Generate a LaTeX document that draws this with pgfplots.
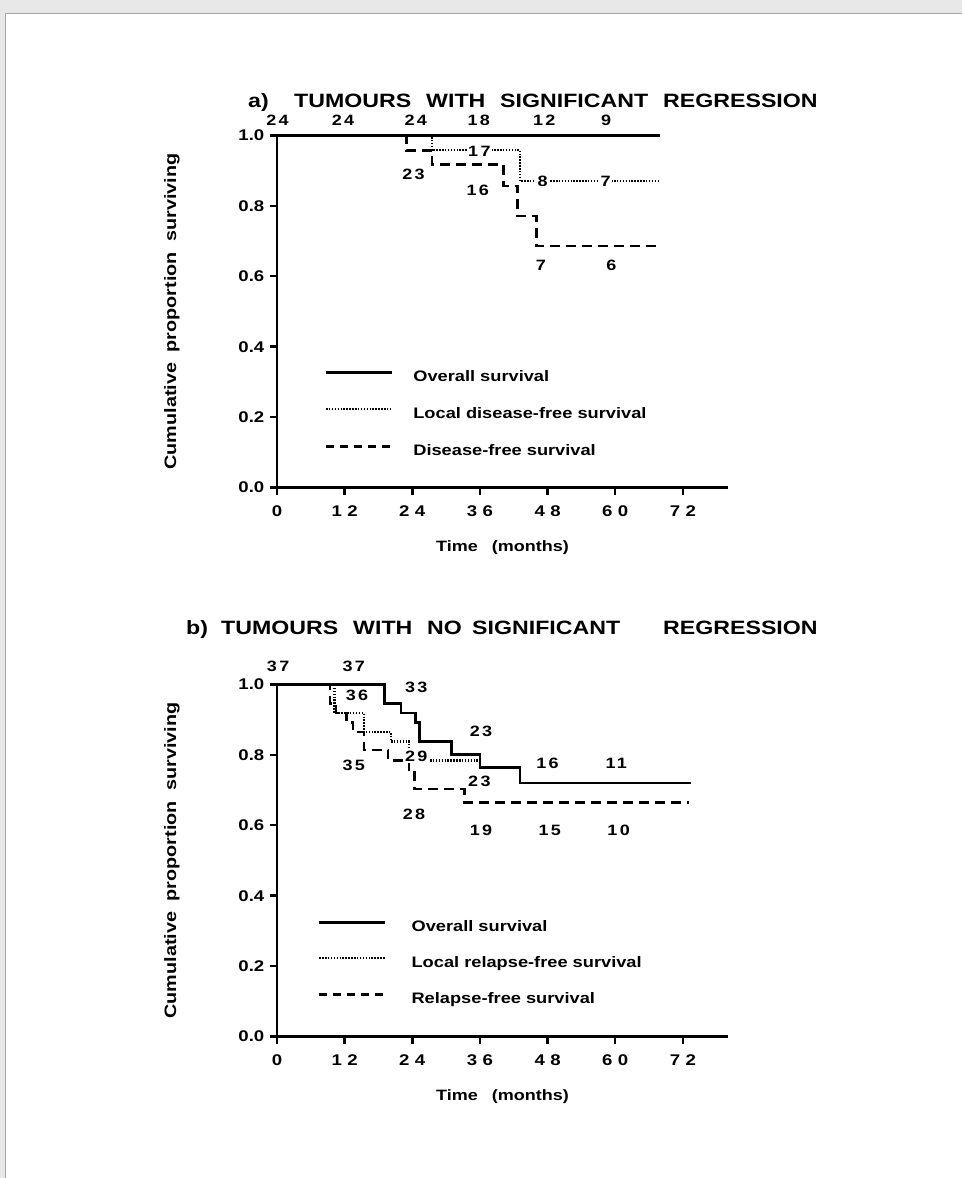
\documentclass[border=0pt]{standalone}
\usepackage{fontspec}
\setmainfont{Liberation Sans}[FakeStretch=1.2]
\newfontfamily\numfont{Liberation Sans}[FakeStretch=1.2, LetterSpace=15]
\newfontfamily\tickfont{Liberation Sans}[FakeStretch=1.2, LetterSpace=35]
\usepackage{pgfplots}
\pgfplotsset{compat=1.18}

\newcommand\fsz[1]{\fontsize{#1}{#1}\selectfont\bfseries}

\tikzset{
  overall/.style={black, line width=2.6pt},
  localfree/.style={black, line width=2.2pt, dash pattern=on 1.5pt off 1.4pt},
  relfree/.style={black, line width=2.5pt, dash pattern=on 10pt off 6pt},
  atrisk/.style={font=\numfont\fsz{15}, inner sep=1.5pt},
  onLine/.style={atrisk, fill=white},
  ttl/.style={anchor=base west, inner sep=0pt, font=\fsz{19.3}},
}

\pgfplotsset{
  kmframe/.style={
    scale only axis, width=451pt, height=352pt,
    xmin=0, xmax=80, ymin=0, ymax=1,
    axis x line*=bottom, axis y line*=left,
    axis line style={line width=2.4pt, -},
    xtick={0,12,24,36,48,60,72},
    xticklabels={0,12,24,36,48,60,72},
    ytick={0,0.2,0.4,0.6,0.8,1},
    yticklabels={0.0,0.2,0.4,0.6,0.8,1.0},
    tick align=outside, major tick length=7.5pt,
    major tick style={line width=2.4pt, black},
    xticklabel style={font=\tickfont\fsz{15.5}, inner sep=0pt, yshift=-10pt},
    yticklabel style={font=\fsz{15.5}, inner sep=0pt, xshift=-5pt},
    xlabel={Time\hspace{9pt} (months)},
    xlabel style={font=\fsz{15}, at={(axis description cs:0.5,-0.1705)}, anchor=center},
    ylabel={Cumulative\hspace{5pt} proportion\hspace{5pt} surviving},
    ylabel style={font=\fsz{16.5}, at={(axis description cs:-0.233,0.5)}, anchor=center},
    clip=false,
    legend cell align=left,
    legend style={draw=none, fill=none, anchor=north west,
      nodes={inner sep=0pt, text height=12.5pt, text depth=3.5pt, font=\fsz{15.2}}},
    legend image code/.code={\draw[#1] (0pt,5pt) -- (66pt,5pt);},
  },
}

\begin{document}
\begin{tikzpicture}[x=1pt,y=1pt]
\path[use as bounding box] (0,0) rectangle (962,1178);
% scanned page edge
\fill[black!9] (0,1164) rectangle (962,1178);
\fill[black!9] (0,0) rectangle (5,1178);
\draw[black!35, line width=0.8pt] (5.4,0) -- (5.4,1164.4) -- (962,1164.4);

% ---------------- panel a ----------------
\node[ttl] at (248,1070) {a)};
\node[ttl] at (294,1070) {TUMOURS};
\node[ttl] at (426,1070) {WITH};
\node[ttl] at (500,1070) {SIGNIFICANT};
\node[ttl] at (663,1070) {REGRESSION};

\begin{axis}[kmframe, at={(277pt,690.5pt)}, anchor=south west,
  legend style={at={(axis cs:7.9,0.342)}, row sep=21pt,
    /tikz/every odd column/.append style={column sep=20pt}}]
  \addlegendimage{overall}
  \addlegendentry{Overall survival}
  \addlegendimage{localfree}
  \addlegendentry{Local disease-free survival}
  \addlegendimage{relfree, dash pattern=on 8pt off 6pt}
  \addlegendentry{Disease-free survival}

  % disease-free survival
  \addplot[relfree, const plot, forget plot] coordinates {
    (0,1) (23,0.958) (27.5,0.917) (40.2,0.857) (42.7,0.771) (46,0.686) (68,0.686)};
  % local disease-free survival
  \addplot[localfree, const plot, forget plot] coordinates {
    (0,1) (27.5,0.958) (43.1,0.870) (68,0.870)};
  % overall survival
  \addplot[overall, const plot, forget plot] coordinates {(0,1) (68,1)};

  % numbers at risk
  \node[atrisk] at (axis cs:0.1,1.044) {24};
  \node[atrisk] at (axis cs:11.7,1.044) {24};
  \node[atrisk] at (axis cs:24.6,1.044) {24};
  \node[atrisk] at (axis cs:35.8,1.044) {18};
  \node[atrisk] at (axis cs:47.4,1.044) {12};
  \node[atrisk] at (axis cs:58.4,1.044) {9};
  \node[onLine] at (axis cs:35.9,0.956) {17};
  \node[onLine] at (axis cs:47.1,0.870) {8};
  \node[onLine] at (axis cs:58.3,0.870) {7};
  \node[atrisk] at (axis cs:24.2,0.891) {23};
  \node[atrisk] at (axis cs:35.6,0.845) {16};
  \node[atrisk] at (axis cs:46.8,0.630) {7};
  \node[atrisk] at (axis cs:59.3,0.630) {6};
\end{axis}

% ---------------- panel b ----------------
\node[ttl] at (186,543) {b)};
\node[ttl] at (221,543) {TUMOURS};
\node[ttl] at (353,543) {WITH};
\node[ttl] at (427,543) {NO};
\node[ttl] at (472,543) {SIGNIFICANT};
\node[ttl] at (663,543) {REGRESSION};

\begin{axis}[kmframe, at={(277pt,141.5pt)}, anchor=south west,
  legend style={at={(axis cs:6.7,0.339)}, row sep=20pt,
    /tikz/every odd column/.append style={column sep=25pt}}]
  \addlegendimage{overall}
  \addlegendentry{Overall survival}
  \addlegendimage{localfree}
  \addlegendentry{Local relapse-free survival}
  \addlegendimage{relfree, dash pattern=on 8pt off 6pt}
  \addlegendentry{Relapse-free survival}

  % relapse-free survival
  \addplot[relfree, const plot, forget plot] coordinates {
    (0,1) (9.4,0.946) (10.5,0.919) (12.3,0.892) (13.5,0.865) (15.4,0.814)
    (19.7,0.784) (23.4,0.757) (24.4,0.703) (33.3,0.665) (73,0.665)};
  % local relapse-free survival
  \addplot[localfree, const plot, forget plot] coordinates {
    (0,1) (10.2,0.919) (15.4,0.865) (20.2,0.838) (23.4,0.811) (25,0.784)
    (36,0.765) (43.1,0.720) (73.5,0.720)};
  % overall survival
  \addplot[overall, const plot, forget plot] coordinates {
    (0,1) (19.1,0.946) (22,0.919) (24.6,0.892) (25.3,0.838) (31,0.801)
    (36,0.765) (43.1,0.720) (73.5,0.720)};

  % numbers at risk
  \node[atrisk] at (axis cs:0.2,1.051) {37};
  \node[atrisk] at (axis cs:13.6,1.051) {37};
  \node[atrisk] at (axis cs:14.2,0.970) {36};
  \node[atrisk] at (axis cs:24.7,0.992) {33};
  \node[atrisk] at (axis cs:13.6,0.771) {35};
  \node[onLine] at (axis cs:24.7,0.797) {29};
  \node[atrisk] at (axis cs:36.2,0.866) {23};
  \node[atrisk] at (axis cs:35.9,0.724) {23};
  \node[atrisk] at (axis cs:48.0,0.776) {16};
  \node[atrisk] at (axis cs:60.2,0.776) {11};
  \node[atrisk] at (axis cs:24.3,0.632) {28};
  \node[atrisk] at (axis cs:36.2,0.585) {19};
  \node[atrisk] at (axis cs:48.4,0.585) {15};
  \node[atrisk] at (axis cs:60.6,0.585) {10};
\end{axis}
\end{tikzpicture}
\end{document}
